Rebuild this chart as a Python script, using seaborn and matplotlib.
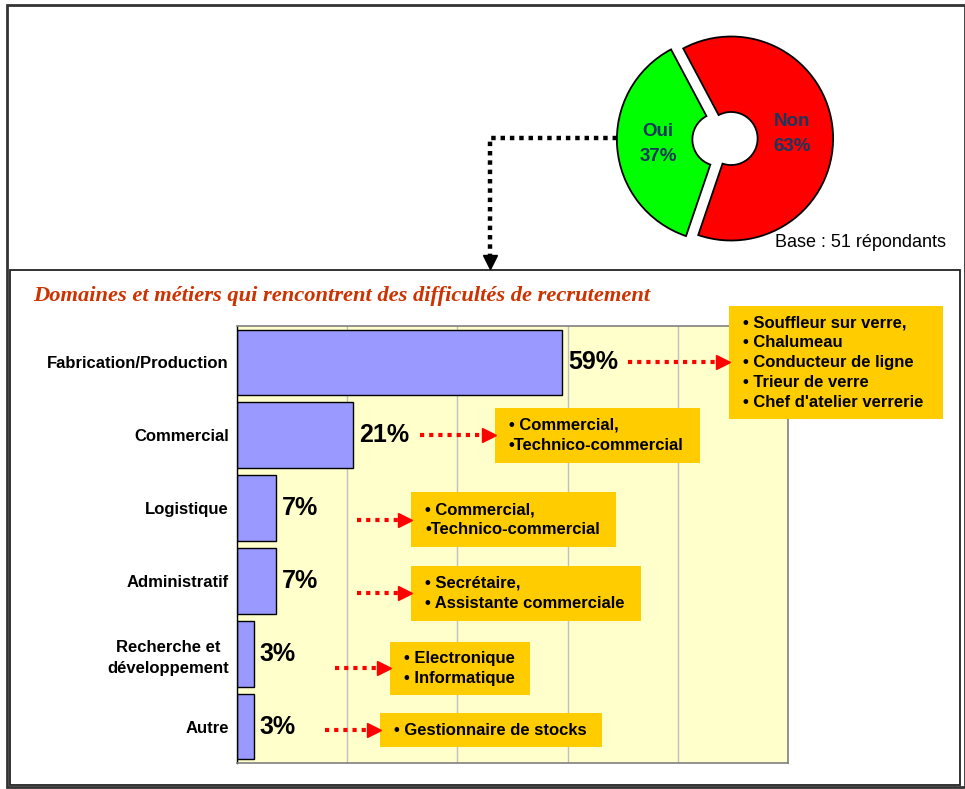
import numpy as np
import pandas as pd
import matplotlib
matplotlib.use("Agg")
import matplotlib.pyplot as plt
from matplotlib.patches import Rectangle
import seaborn as sns

# --- Survey answers: difficulty recruiting? ---
answer_labels = ["Oui", "Non"]
answer_shares = [37, 63]
answer_colors = ["#00FF00", "#FF0000"]
base_note = "Base : 51 répondants"

# --- Domains where recruiting is difficult ---
chart_title = "Domaines et métiers qui rencontrent des difficultés de recrutement"
domains = ["Fabrication/Production", "Commercial", "Logistique", "Administratif",
           "Recherche et\ndéveloppement", "Autre"]
domain_shares = [59, 21, 7, 7, 3, 3]
domain_jobs = [
    ["• Souffleur sur verre,", "• Chalumeau", "• Conducteur de ligne",
     "• Trieur de verre", "• Chef d'atelier verrerie"],
    ["• Commercial,", "•Technico-commercial"],
    ["• Commercial,", "•Technico-commercial"],
    ["• Secrétaire,", "• Assistante commerciale"],
    ["• Electronique", "• Informatique"],
    ["• Gestionnaire de stocks"],
]

# Layout of the callout boxes (x in % units, y in row units)
box_left = [89.3, 46.8, 31.6, 31.6, 27.8, 26.0]
box_width = [38.8, 37.2, 37.2, 41.7, 25.4, 40.3]
box_shift = [0.0, 0.0, 0.16, 0.17, 0.2, 0.05]
box_height = [1.55, 0.755, 0.755, 0.755, 0.73, 0.47]
arrow_start = [71.0, 33.2, 21.8, 21.8, 17.8, 16.0]

W, H = 965, 789
sns.set_style("white")
plt.rcParams["font.family"] = ["Liberation Sans", "DejaVu Sans"]
plt.rcParams["text.color"] = "black"
plt.rcParams["ytick.color"] = "black"
plt.rcParams["xtick.color"] = "black"

fig = plt.figure(figsize=(W / 100, H / 100), dpi=100)
fig.patch.set_facecolor("white")

# Overlay in pixel coordinates for frames and the connector
ov = fig.add_axes([0, 0, 1, 1], zorder=0)
ov.set_xlim(0, W)
ov.set_ylim(H, 0)
ov.set_axis_off()
ov.add_patch(Rectangle((7, 5), 958, 782, fill=False, ec="#333333", lw=2))
ov.add_patch(Rectangle((10, 270), 950, 515, fill=False, ec="#222222", lw=1.3))
ov.plot([617, 490, 490], [138, 138, 256], color="black", lw=3.2,
        ls=(0, (1, 1.1)))
ov.plot([490], [262], marker="v", color="black", ms=10)
ov.text(775, 242, base_note, fontsize=13, va="center", ha="left")

# --- Donut ---
cx, cy, R = 725, 139, 102
half = 1.3 * R
pax = fig.add_axes([(cx - half) / W, 1 - (cy + half) / H, 2 * half / W, 2 * half / H],
                   zorder=2)
wedges, _ = pax.pie(answer_shares, colors=answer_colors, startangle=118,
                    counterclock=True, explode=[0.06, 0.06], radius=1,
                    wedgeprops=dict(width=0.74, edgecolor="black", linewidth=1.3))
pax.set_xlim(-1.3, 1.3)
pax.set_ylim(-1.3, 1.3)
pax.set_aspect("equal")
pax.set_axis_off()
for w, lab, share in zip(wedges, answer_labels, answer_shares):
    mid = np.deg2rad((w.theta1 + w.theta2) / 2)
    x = w.center[0] + 0.6 * np.cos(mid)
    y = w.center[1] + 0.6 * np.sin(mid)
    pax.text(x, y, f"{lab}\n{share}%", ha="center", va="center",
             fontsize=13.5, fontweight="bold", color="#17375E", linespacing=1.6)

# --- Horizontal bars ---
fig.text(33 / W, 1 - 296 / H, chart_title, family="Liberation Serif",
         fontweight="bold", fontstyle="italic", fontsize=16.2, color="#CC3300",
         va="center", ha="left")

df = pd.DataFrame({"domaine": domains, "part": domain_shares})
ax = fig.add_axes([237 / W, 1 - 763 / H, 551 / W, 437 / H], zorder=1)
sns.barplot(data=df, y="domaine", x="part", orient="h", color="#9999FF",
            saturation=1, edgecolor="black", linewidth=1, width=0.9, ax=ax)
ax.set_facecolor("#FFFFCC")
ax.set_xlim(0, 100)
ax.set_ylim(5.5, -0.5)
ax.set_xticks([0, 20, 40, 60, 80, 100])
ax.set_xticklabels([])
ax.xaxis.grid(True, color="#C0C0C0", lw=1)
ax.set_axisbelow(True)
ax.set_xlabel("")
ax.set_ylabel("")
ax.tick_params(axis="x", length=0)
ax.set_yticks(range(len(domains)))
ax.set_yticklabels(domains, fontsize=12, fontweight="bold", multialignment="center",
                   color="black", linespacing=1.45)
ax.set_yticks(np.arange(-0.5, len(domains), 1), minor=True)
ax.tick_params(axis="y", which="major", length=0, pad=6)
ax.tick_params(axis="y", which="minor", length=6, width=1, color="black")
for side in ["top", "right", "bottom"]:
    ax.spines[side].set_color("#808080")
    ax.spines[side].set_linewidth(1.2)
ax.spines["left"].set_color("black")
ax.spines["left"].set_linewidth(1)

px_per_unit = 551 / 100
for i, v in enumerate(domain_shares):
    ax.text(v + 6 / px_per_unit, i, f"{v}%", ha="left", va="center",
            fontsize=18, fontweight="bold", clip_on=False)
    yc = i + box_shift[i]
    x0 = box_left[i]
    ax.add_patch(Rectangle((x0, yc - box_height[i] / 2), box_width[i], box_height[i],
                           facecolor="#FFCC00", edgecolor="none", clip_on=False,
                           zorder=4))
    ax.text(x0 + 14 / px_per_unit, yc, "\n".join(domain_jobs[i]), ha="left",
            va="center", fontsize=12, fontweight="bold", linespacing=1.4,
            clip_on=False, zorder=5)
    head = x0 - 6 / px_per_unit
    ax.plot([arrow_start[i], head], [yc, yc], color="#FF0000", lw=3,
            ls=(0, (1, 1.2)), clip_on=False, zorder=4)
    ax.plot([head], [yc], marker=">", color="#FF0000", ms=10, clip_on=False,
            zorder=4)

fig.savefig("out.png", dpi=100)
